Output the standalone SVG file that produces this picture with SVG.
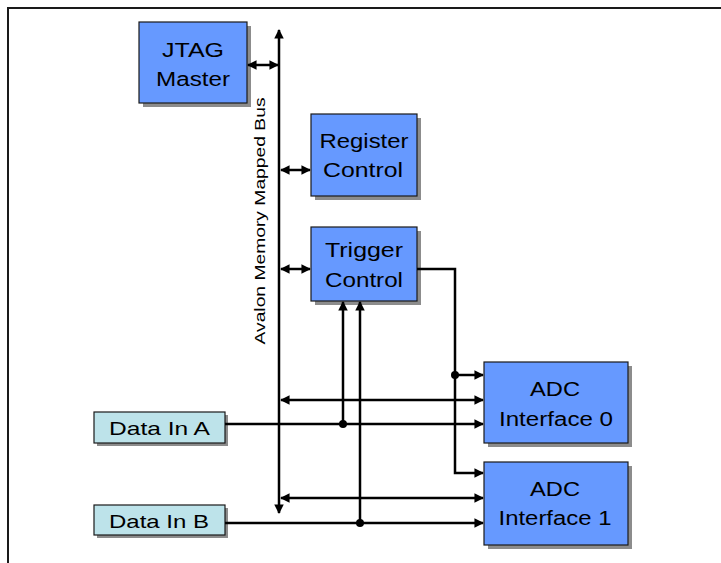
<svg xmlns="http://www.w3.org/2000/svg" width="721" height="563" viewBox="0 0 721 563">
<style>
.box{fill:#6699FF;stroke:#1a1a1a;stroke-width:1.2}
.din{fill:#BDE3EA;stroke:#1a1a1a;stroke-width:1.2}
.sh{fill:#8c8c8c}
.t{font-family:"Liberation Sans",Arial,sans-serif;font-size:20px;fill:#000;text-anchor:middle}
.td{font-family:"Liberation Sans",Arial,sans-serif;font-size:19px;fill:#000;text-anchor:middle}
.w{fill:none;stroke:#000;stroke-width:2.5}
</style>
<defs>
<marker id="ah" viewBox="0 0 10 10" refX="9" refY="5" markerWidth="3.8" markerHeight="3.8" orient="auto-start-reverse" markerUnits="strokeWidth">
<path d="M0,0 L10,5 L0,10 z" fill="#000"/>
</marker>
</defs>
<rect width="721" height="563" fill="#fff"/>
<path d="M8,563 V8 H721" fill="none" stroke="#1a1a1a" stroke-width="2"/>

<g id="jtag">
<rect class="sh" x="143" y="26" width="108" height="81"/>
<rect class="box" x="139" y="22" width="108" height="81"/>
<text class="t" x="193" y="57" textLength="62" lengthAdjust="spacingAndGlyphs">JTAG</text>
<text class="t" x="193" y="86" textLength="74" lengthAdjust="spacingAndGlyphs">Master</text>
</g>
<g id="register">
<rect class="sh" x="315" y="118" width="106" height="82"/>
<rect class="box" x="311" y="114" width="106" height="82"/>
<text class="t" x="364" y="148" textLength="89" lengthAdjust="spacingAndGlyphs">Register</text>
<text class="t" x="363" y="177" textLength="80" lengthAdjust="spacingAndGlyphs">Control</text>
</g>
<g id="trigger">
<rect class="sh" x="315" y="231" width="106" height="74"/>
<rect class="box" x="311" y="227" width="106" height="74"/>
<text class="t" x="364" y="257" textLength="78" lengthAdjust="spacingAndGlyphs">Trigger</text>
<text class="t" x="364" y="287" textLength="78" lengthAdjust="spacingAndGlyphs">Control</text>
</g>
<g id="adc0">
<rect class="sh" x="488" y="366" width="144" height="81"/>
<rect class="box" x="484" y="362" width="144" height="81"/>
<text class="t" x="555" y="396" textLength="50" lengthAdjust="spacingAndGlyphs">ADC</text>
<text class="t" x="556" y="426" textLength="114" lengthAdjust="spacingAndGlyphs">Interface 0</text>
</g>
<g id="adc1">
<rect class="sh" x="488" y="466" width="144" height="83"/>
<rect class="box" x="484" y="462" width="144" height="83"/>
<text class="t" x="555" y="496" textLength="50" lengthAdjust="spacingAndGlyphs">ADC</text>
<text class="t" x="555" y="525" textLength="113" lengthAdjust="spacingAndGlyphs">Interface 1</text>
</g>
<g id="dataA">
<rect class="sh" x="97" y="415" width="131" height="31"/>
<rect class="din" x="94" y="412" width="131" height="31"/>
<text class="td" x="159.5" y="435" textLength="101" lengthAdjust="spacingAndGlyphs">Data In A</text>
</g>
<g id="dataB">
<rect class="sh" x="97" y="508" width="131" height="30"/>
<rect class="din" x="94" y="505" width="131" height="30"/>
<text class="td" x="159" y="528" textLength="100" lengthAdjust="spacingAndGlyphs">Data In B</text>
</g>

<g id="bus">
<line class="w" x1="279" y1="513" x2="279" y2="30" marker-start="url(#ah)" marker-end="url(#ah)"/>
<text font-family="'Liberation Sans',Arial,sans-serif" font-size="15" text-anchor="middle" textLength="247" lengthAdjust="spacingAndGlyphs" transform="translate(265,221) rotate(-90)">Avalon Memory Mapped Bus</text>
</g>

<g id="connectors">
<line class="w" x1="248" y1="65" x2="278" y2="65" marker-start="url(#ah)" marker-end="url(#ah)"/>
<line class="w" x1="281" y1="170" x2="310" y2="170" marker-start="url(#ah)" marker-end="url(#ah)"/>
<line class="w" x1="281" y1="269" x2="310" y2="269" marker-start="url(#ah)" marker-end="url(#ah)"/>
<polyline class="w" points="417,269 455,269 455,473 483,473" marker-end="url(#ah)"/>
<line class="w" x1="455" y1="375" x2="483" y2="375" marker-end="url(#ah)"/>
<circle cx="455" cy="375" r="4" fill="#000"/>
<line class="w" x1="281" y1="400" x2="483" y2="400" marker-start="url(#ah)" marker-end="url(#ah)"/>
<line class="w" x1="281" y1="498" x2="483" y2="498" marker-start="url(#ah)" marker-end="url(#ah)"/>
<line class="w" x1="225" y1="424" x2="483" y2="424" marker-end="url(#ah)"/>
<line class="w" x1="225" y1="523" x2="483" y2="523" marker-end="url(#ah)"/>
<line class="w" x1="343" y1="424" x2="343" y2="302" marker-end="url(#ah)"/>
<line class="w" x1="360" y1="523" x2="360" y2="302" marker-end="url(#ah)"/>
<circle cx="343" cy="424" r="4" fill="#000"/>
<circle cx="360" cy="523" r="4" fill="#000"/>
</g>
</svg>
